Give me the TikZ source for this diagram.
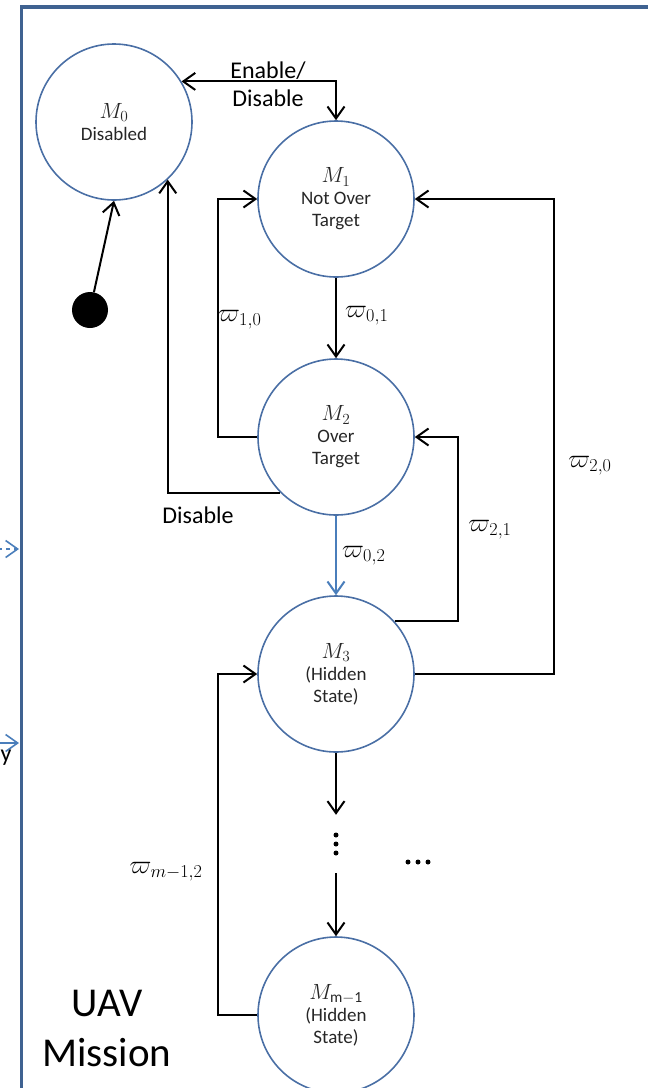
\RequirePackage{fix-cm}
\documentclass[tikz,border=0pt]{standalone}
\usepackage{fontspec}
\setmainfont{Carlito}
\usetikzlibrary{arrows.meta}
\definecolor{circ}{HTML}{4A6FA5}
\definecolor{bord}{HTML}{3F6291}
\definecolor{lblue}{HTML}{4A7EBB}
\newcommand{\Mlab}[1]{{\fontsize{22}{22}\selectfont$M_{#1}$}}
\begin{document}
\begin{tikzpicture}[x=1pt,y=-1pt,
  state/.style={circle, draw=circ, line width=1.6pt, minimum size=156pt, inner sep=0pt, align=center,
                font=\fontsize{19}{22}\selectfont, text=black!85},
  arr/.style={draw=black, line width=2pt, -{Straight Barb[length=12pt,width=17pt]}},
  arrboth/.style={draw=black, line width=2pt, {Straight Barb[length=12pt,width=17pt]}-{Straight Barb[length=12pt,width=17pt]}},
  barr/.style={draw=lblue, line width=2pt, -{Straight Barb[length=12pt,width=17pt]}},
  lab/.style={font=\fontsize{26}{28}\selectfont, inner sep=0pt},
  txt/.style={font=\fontsize{24}{28}\selectfont, align=center, inner sep=0pt},
  border/.style={draw=bord, line width=3.6pt}]
\useasboundingbox (0,0) rectangle (648,1088);
\clip (0,0) rectangle (648,1088);

% frame
\coordinate (fr1) at (660,7);
\coordinate (fr2) at (21.5,7);
\coordinate (fr3) at (21.5,1100);
\draw[border] (fr1) -- (fr2) -- (fr3);

% fragments at left edge
\coordinate (la1) at (-10,549);
\coordinate (lb1) at (19,549);
\coordinate (la2) at (-10,743);
\coordinate (lb2) at (19,743);
\draw[barr, line width=1.6pt, dash pattern=on 4pt off 4pt] (la1) -- (lb1);
\draw[barr, line width=1.6pt] (la2) -- (lb2);
\node[txt, anchor=center] (yfrag) at (6,758) {y};

% states
\node[state] (M0) at (114,122) {\Mlab{0}\\Disabled};
\node[state] (M1) at (336,199) {\Mlab{1}\\Not Over\\Target};
\node[state] (M2) at (336,437) {\Mlab{2}\\Over\\Target};
\node[state] (M3) at (336,674) {\Mlab{3}\\(Hidden\\State)};
\node[state] (Mm) at (336,1015) {\Mlab{\mathrm{m-1}}\\(Hidden\\State)};

% initial dot
\node[circle, fill=black, minimum size=36pt, inner sep=0pt] (dot) at (90,310) {};
\draw[arr] (dot) -- (M0.south);

% enable/disable
\draw[arrboth] (M0.31) -| (M1.north);
\node[txt] (en) at (268,84) {Enable/\\Disable};

% M1 -> M2
\draw[arr] (M1.south) -- (M2.north);
\node[lab, anchor=west] (w01) at (345,316) {$\varpi_{0,1}$};

% M2 -> M1
\coordinate (c10) at (218,437);
\draw[arr] (M2.west) -- (c10) |- (M1.west);
\node[lab, anchor=west] (w10) at (218,320) {$\varpi_{1,0}$};

% M2 -> M0 disable
\draw[arr] (M2.225) -| (M0.-47);
\node[txt] (dis) at (198,515) {Disable};

% M2 -> M3 blue
\draw[barr] (M2.south) -- (M3.north);
\node[lab, anchor=west] (w02) at (342,556) {$\varpi_{0,2}$};

% M3 -> M2
\coordinate (c21) at (458,437);
\draw[arr] (M3.42) -| (c21) -- (M2.east);
\node[lab] (w21) at (490,530) {$\varpi_{2,1}$};

% M3 -> M1
\coordinate (c20) at (554,199);
\draw[arr] (M3.east) -| (c20) -- (M1.east);
\node[lab] (w20) at (590,466) {$\varpi_{2,0}$};

% vertical dots
\node[minimum width=10pt, minimum height=58pt, inner sep=0pt] (vd) at (336,844) {};
\fill (vd.center) ++(0,-9) circle (2.5pt);
\fill (vd.center) circle (2.5pt);
\fill (vd.center) ++(0,9) circle (2.5pt);
\draw[arr] (M3.south) -- (vd.north);
\draw[arr] (vd.south) -- (Mm.north);

% horizontal dots
\node[minimum width=30pt, minimum height=6pt, inner sep=0pt] (hd) at (418,862) {};
\fill (hd.center) ++(-10,0) circle (2.5pt);
\fill (hd.center) circle (2.5pt);
\fill (hd.center) ++(10,0) circle (2.5pt);

% Mm -> M3
\coordinate (cm2) at (218,1015);
\draw[arr] (Mm.west) -- (cm2) |- (M3.west);
\node[lab] (wm2) at (166,872) {$\varpi_{m-1,2}$};

% title
\node[font=\fontsize{41}{50}\selectfont, align=center, inner sep=0pt] (uav) at (107,1028) {UAV\\Mission};
\end{tikzpicture}
\end{document}
